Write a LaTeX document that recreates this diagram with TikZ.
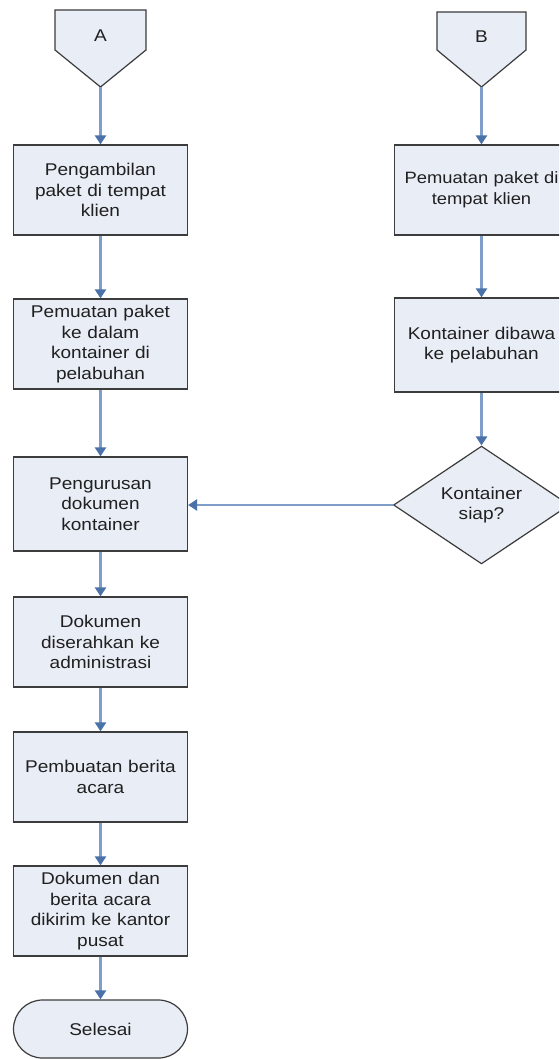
\documentclass[tikz,border=0pt]{standalone}
\usepackage{fontspec}
\setmainfont{Liberation Sans}[FakeStretch=1.12]
\usetikzlibrary{arrows.meta,shapes.geometric,shapes.misc}
\definecolor{boxfill}{HTML}{E8EDF6}
\definecolor{boxline}{HTML}{3C3C3C}
\definecolor{arrline}{HTML}{7E9DC8}
\definecolor{arrhead}{HTML}{4A72A8}
\definecolor{txt}{HTML}{202020}
\tikzset{
  stepbox/.style={draw=boxline, fill=boxfill, line width=1.2pt, minimum width=174pt,
    minimum height=90pt, inner sep=0pt, align=center, text width=172pt, text=txt,
    font=\fontsize{17}{20.5}\selectfont},
  decide/.style={draw=boxline, fill=boxfill, line width=1.2pt, diamond, minimum width=176pt,
    minimum height=96pt, inner sep=0pt, align=center, text=txt, font=\fontsize{17}{20.5}\selectfont},
  endbox/.style={draw=boxline, fill=boxfill, line width=1.2pt, rounded rectangle, minimum width=174pt,
    minimum height=58pt, inner sep=0pt, align=center, text=txt, font=\fontsize{17}{20.5}\selectfont},
  pageconn/.style={draw=boxline, fill=boxfill, line width=1.2pt},
  flow/.style={draw=arrline, line width=2.4pt, -{Triangle[length=9pt,width=11pt,color=arrhead]}},
}
\begin{document}
\begin{tikzpicture}[x=1pt,y=-1pt]
\useasboundingbox (0,0) rectangle (559,1059);
\clip (0,0) rectangle (559,1059);
\fill[white] (0,0) rectangle (559,1059);
% off-page connectors
\draw[pageconn] (55,10) -- (146,10) -- (146,50) -- (100.5,87) -- (55,50) -- cycle;
\node[text=txt, font=\fontsize{17}{20}\selectfont] (A) at (100.5,36) {A};
\coordinate (Atip) at (100.5,87);
\draw[pageconn] (437,12) -- (526,12) -- (526,50) -- (481.5,87) -- (437,50) -- cycle;
\node[text=txt, font=\fontsize{17}{20}\selectfont] (B) at (481.5,37) {B};
\coordinate (Btip) at (481.5,87);
% left column
\node[stepbox] (l1) at (100.5,190) {Pengambilan\\paket di tempat\\klien};
\node[stepbox] (l2) at (100.5,344) {Pemuatan paket\\ke dalam\\kontainer di\\pelabuhan};
\node[stepbox, minimum height=94pt] (l3) at (100.5,504) {Pengurusan\\dokumen\\kontainer};
\node[stepbox] (l4) at (100.5,642) {Dokumen\\diserahkan ke\\administrasi};
\node[stepbox] (l5) at (100.5,777) {Pembuatan berita\\acara};
\node[stepbox] (l6) at (100.5,911) {Dokumen dan\\berita acara\\dikirim ke kantor\\pusat};
\node[endbox] (end) at (100.5,1029) {Selesai};
% right column
\node[stepbox, font=\fontsize{16.4}{20.5}\selectfont] (r1) at (481.5,190) {Pemuatan paket di\\tempat klien};
\node[stepbox, minimum height=94pt] (r2) at (481.5,345) {Kontainer dibawa\\ke pelabuhan};
\node[decide] (d) at (481.5,505) {Kontainer\\siap?};
% connectors
\draw[flow] (Atip) -- (l1.north);
\draw[flow] (l1) -- (l2);
\draw[flow] (l2) -- (l3);
\draw[flow] (l3) -- (l4);
\draw[flow] (l4) -- (l5);
\draw[flow] (l5) -- (l6);
\draw[flow] (l6) -- (end);
\draw[flow] (Btip) -- (r1.north);
\draw[flow] (r1) -- (r2);
\draw[flow] (r2) -- (d);
\draw[flow] (d.west) -- (d.west -| l3.east);
\end{tikzpicture}
\end{document}
